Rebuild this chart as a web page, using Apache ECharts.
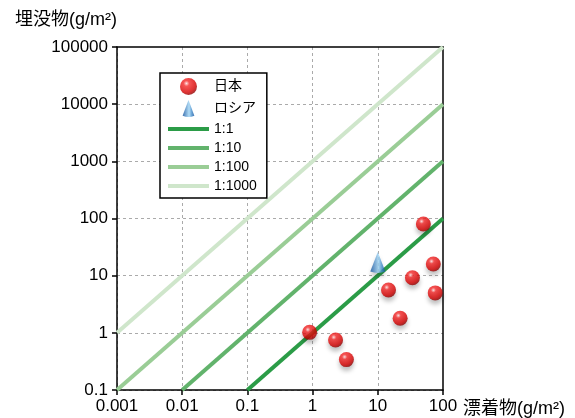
<!DOCTYPE html>
<html>
<head>
<meta charset="utf-8">
<script src="https://cdn.jsdelivr.net/npm/echarts@6/dist/echarts.min.js"></script>
<style>
  html, body { margin: 0; padding: 0; background: #fff; }
  #chart { width: 575px; height: 418px; }
</style>
</head>
<body>
<div id="chart"></div>
<script>
// tick labels
const xTicks = ['0.001', '0.01', '0.1', '1', '10', '100'];
const yTicks = ['0.1', '1', '10', '100', '1000', '10000', '100000'];

// 漂着物 vs 埋没物 (g/m2)
const japan = [
  [0.9, 1.02], [2.25, 0.75], [3.3, 0.34], [14.6, 5.6], [22, 1.8],
  [34, 9.2], [50, 80], [71, 16], [76, 5.0]
];
const russia = [[10, 17]];

// reference lines
const lineNames = ['1:1', '1:10', '1:100', '1:1000'];
const line1 = [[0.1, 0.1], [100, 100]];
const line10 = [[0.01, 0.1], [100, 1000]];
const line100 = [[0.001, 0.1], [100, 10000]];
const line1000 = [[0.001, 1], [100, 100000]];

const FONT = '"Liberation Sans", "Noto Sans CJK JP", sans-serif';
const lineColors = ['#2b9c47', '#62b36c', '#9acd96', '#cfe6cb'];

const chart = echarts.init(document.getElementById('chart'));

const ball = {
  type: 'radial', x: 0.38, y: 0.32, r: 0.75,
  colorStops: [
    { offset: 0, color: '#ffe0e0' },
    { offset: 0.22, color: '#f52a2a' },
    { offset: 0.7, color: '#d60000' },
    { offset: 1, color: '#7a0000' },
  ],
};
const cone = {
  type: 'linear', x: 0, y: 0, x2: 1, y2: 0,
  colorStops: [
    { offset: 0, color: '#0c4e9c' },
    { offset: 0.55, color: '#9fd4f4' },
    { offset: 0.75, color: '#4c94d0' },
    { offset: 1, color: '#0c4e9c' },
  ],
};
const conePath = 'path://M10 0 L20 27 Q10 31 0 27 Z';
const barIcon = 'path://M0 0 H41 V4 H0 Z';

const logFmt = (ticks, base) => (v) => ticks[Math.round(Math.log10(v)) + base];

const frameAxis = { lineStyle: { color: '#000', width: 1.5 } };

const lineSeries = [line1, line10, line100, line1000].map((d, i) => ({
  name: lineNames[i],
  type: 'line',
  data: d,
  symbol: 'none',
  silent: true,
  z: 2,
  lineStyle: { color: lineColors[i], width: 4 },
  itemStyle: { color: lineColors[i] },
}));

chart.setOption({
  animation: false,
  grid: { left: 117, top: 47, right: 132, bottom: 28 },
  legend: {
    orient: 'vertical',
    left: 160, top: 73,
    itemWidth: 41, itemHeight: 17, itemGap: 5,
    padding: [5, 10, 5, 8],
    borderColor: '#000', borderWidth: 1.5,
    backgroundColor: '#fff',
    textStyle: { fontFamily: FONT, fontSize: 14, color: '#000' },
    data: [{ name: '日本' }, { name: 'ロシア' }].concat(
      lineNames.map((n) => ({ name: n, icon: barIcon }))
    ),
  },
  xAxis: [
    {
      type: 'log', logBase: 10, min: 0.001, max: 100,
      name: '漂着物(g/m²)',
      nameLocation: 'end', nameGap: 20,
      nameTextStyle: { fontFamily: FONT, fontSize: 18, color: '#000', verticalAlign: 'top', padding: [10, 0, 0, 0] },
      axisLine: frameAxis,
      axisTick: { inside: false, length: 5, lineStyle: { color: '#000', width: 1.5 } },
      axisLabel: { fontFamily: FONT, fontSize: 17, color: '#000', margin: 8, formatter: logFmt(xTicks, 3) },
      splitLine: { show: true, showMaxLine: false, lineStyle: { color: '#aaa', type: [3, 3], width: 1 } },
    },
    {
      // top frame edge
      type: 'log', logBase: 10, min: 0.001, max: 100, position: 'top',
      axisLine: frameAxis, axisTick: { show: false }, axisLabel: { show: false }, splitLine: { show: false },
    },
  ],
  yAxis: [
    {
      type: 'log', logBase: 10, min: 0.1, max: 100000, splitNumber: 6,
      name: '埋没物(g/m²)',
      nameLocation: 'end', nameGap: 18,
      nameTextStyle: { fontFamily: FONT, fontSize: 18, color: '#000', align: 'right' },
      axisLine: frameAxis,
      axisTick: { inside: false, length: 5, lineStyle: { color: '#000', width: 1.5 } },
      axisLabel: { fontFamily: FONT, fontSize: 17, color: '#000', margin: 9, formatter: logFmt(yTicks, 1) },
      splitLine: { show: true, showMaxLine: false, lineStyle: { color: '#aaa', type: [3, 3], width: 1 } },
    },
    {
      // right frame edge
      type: 'log', logBase: 10, min: 0.1, max: 100000, position: 'right',
      axisLine: frameAxis, axisTick: { show: false }, axisLabel: { show: false }, splitLine: { show: false },
    },
  ],
  series: lineSeries.concat([
    {
      name: '日本',
      type: 'scatter',
      data: japan,
      symbol: 'circle',
      symbolSize: 15,
      z: 5,
      itemStyle: {
        color: ball,
        shadowBlur: 4, shadowOffsetY: 4, shadowColor: 'rgba(0,0,0,0.3)',
      },
    },
    {
      name: 'ロシア',
      type: 'scatter',
      data: russia,
      symbol: conePath,
      symbolSize: [15, 21],
      z: 5,
      itemStyle: {
        color: cone,
        shadowBlur: 4, shadowOffsetY: 4, shadowColor: 'rgba(0,0,0,0.25)',
      },
    },
  ]),
});

window.addEventListener('resize', () => {
  chart.resize();
});
</script>
</body>
</html>
